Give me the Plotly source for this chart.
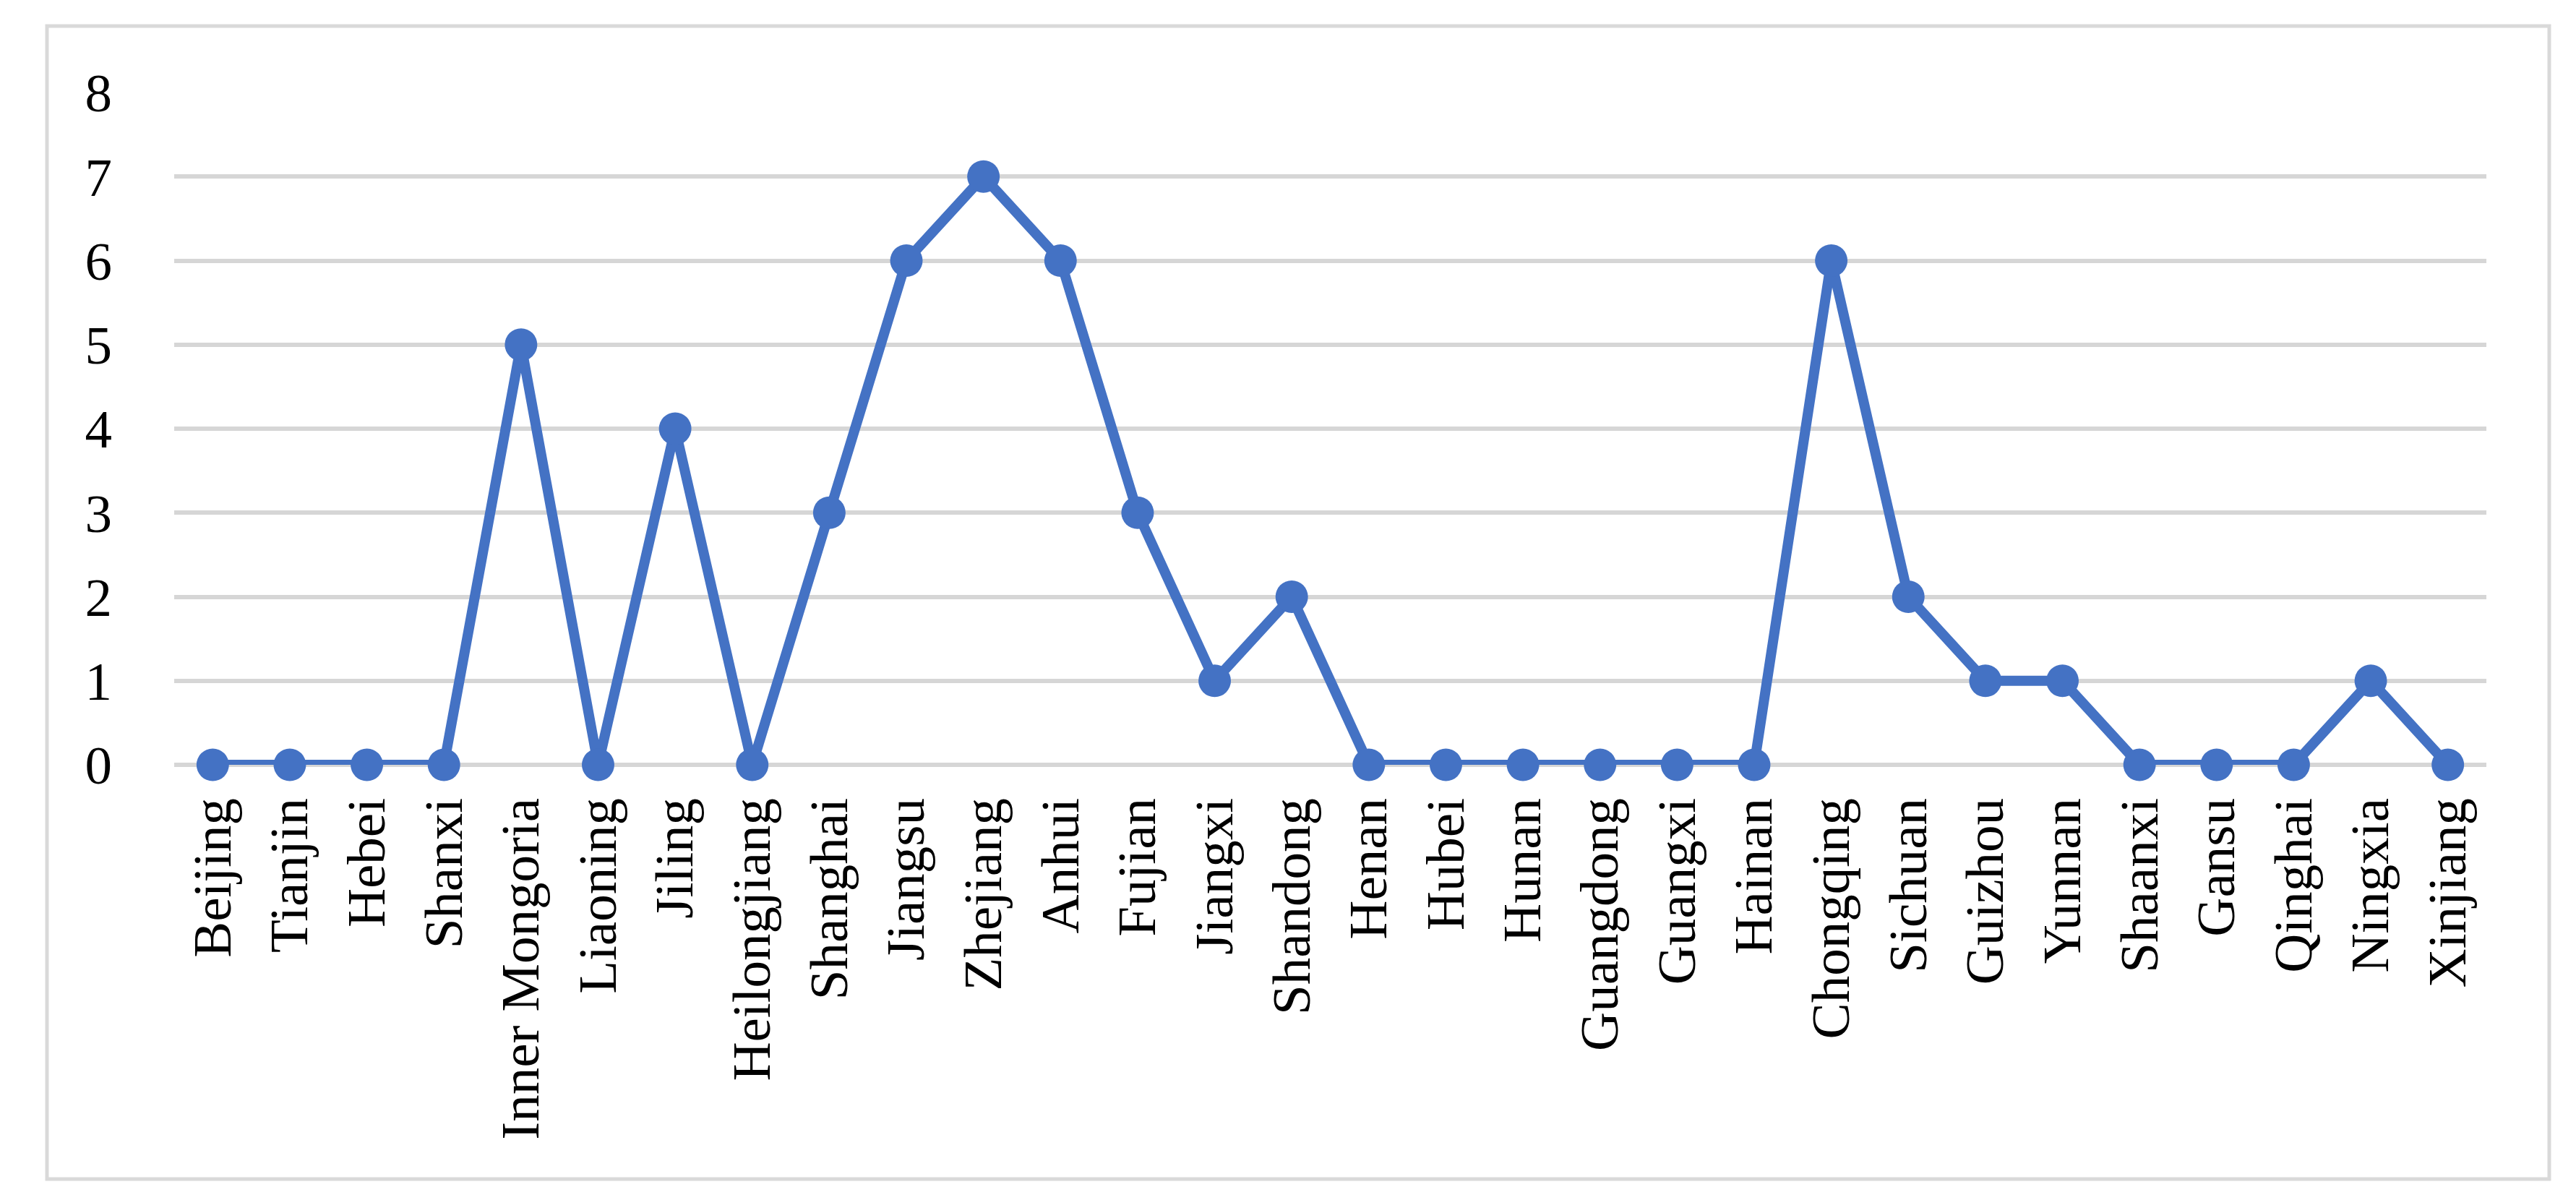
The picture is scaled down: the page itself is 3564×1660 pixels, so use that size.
import plotly.graph_objects as go

provinces = ["Beijing", "Tianjin", "Hebei", "Shanxi", "Inner Mongoria", "Liaoning", "Jiling",
             "Heilongjiang", "Shanghai", "Jiangsu", "Zhejiang", "Anhui", "Fujian", "Jiangxi",
             "Shandong", "Henan", "Hubei", "Hunan", "Guangdong", "Guangxi", "Hainan",
             "Chongqing", "Sichuan", "Guizhou", "Yunnan", "Shaanxi", "Gansu", "Qinghai",
             "Ningxia", "Xinjiang"]
counts = [0, 0, 0, 0, 5, 0, 4, 0, 3, 6, 7, 6, 3, 1, 2, 0, 0, 0, 0, 0, 0, 6, 2, 1, 1, 0, 0, 0, 1, 0]
y_ticks = [0, 1, 2, 3, 4, 5, 6, 7, 8]

BLUE = "#4472C4"
GRID = "#d6d6d6"
FONT = "Liberation Serif, Times New Roman, serif"

W, H = 3564, 1660
L, R, T, B = 233, 132, 120, 610
pw, ph = W - L - R, H - T - B

fig = go.Figure()
fig.add_trace(go.Scatter(
    x=provinces, y=counts, mode="lines+markers",
    line=dict(color=BLUE, width=14),
    marker=dict(color=BLUE, size=45),
    cliponaxis=False, showlegend=False,
))

def px_to_paper_x(px):
    return (px - L) / pw

def py_to_paper_y(py):
    return (H - B - py) / ph

fig.add_shape(type="rect", xref="paper", yref="paper",
              x0=px_to_paper_x(57), x1=px_to_paper_x(3519),
              y0=py_to_paper_y(1623), y1=py_to_paper_y(28),
              line=dict(color="#d9d9d9", width=5), fillcolor="rgba(0,0,0,0)", layer="below")

fig.update_layout(
    width=W, height=H,
    margin=dict(l=L, r=R, t=T, b=B, autoexpand=False),
    paper_bgcolor="white", plot_bgcolor="white",
    font=dict(family=FONT, size=75, color="black"),
    xaxis=dict(type="category", range=[-0.5, len(provinces) - 0.5], tickangle=-90,
               showgrid=False, showline=False, zeroline=False, ticks="",
               ticklabelstandoff=30, tickfont=dict(family=FONT, size=75, color="black")),
    yaxis=dict(range=[0, 8], tickvals=y_ticks, showgrid=True, gridcolor=GRID, gridwidth=6,
               zeroline=True, zerolinecolor=GRID, zerolinewidth=6, showline=False, ticks="",
               ticklabelstandoff=85, tickfont=dict(family=FONT, size=75, color="black")),
)

fig.write_html("out.html")
